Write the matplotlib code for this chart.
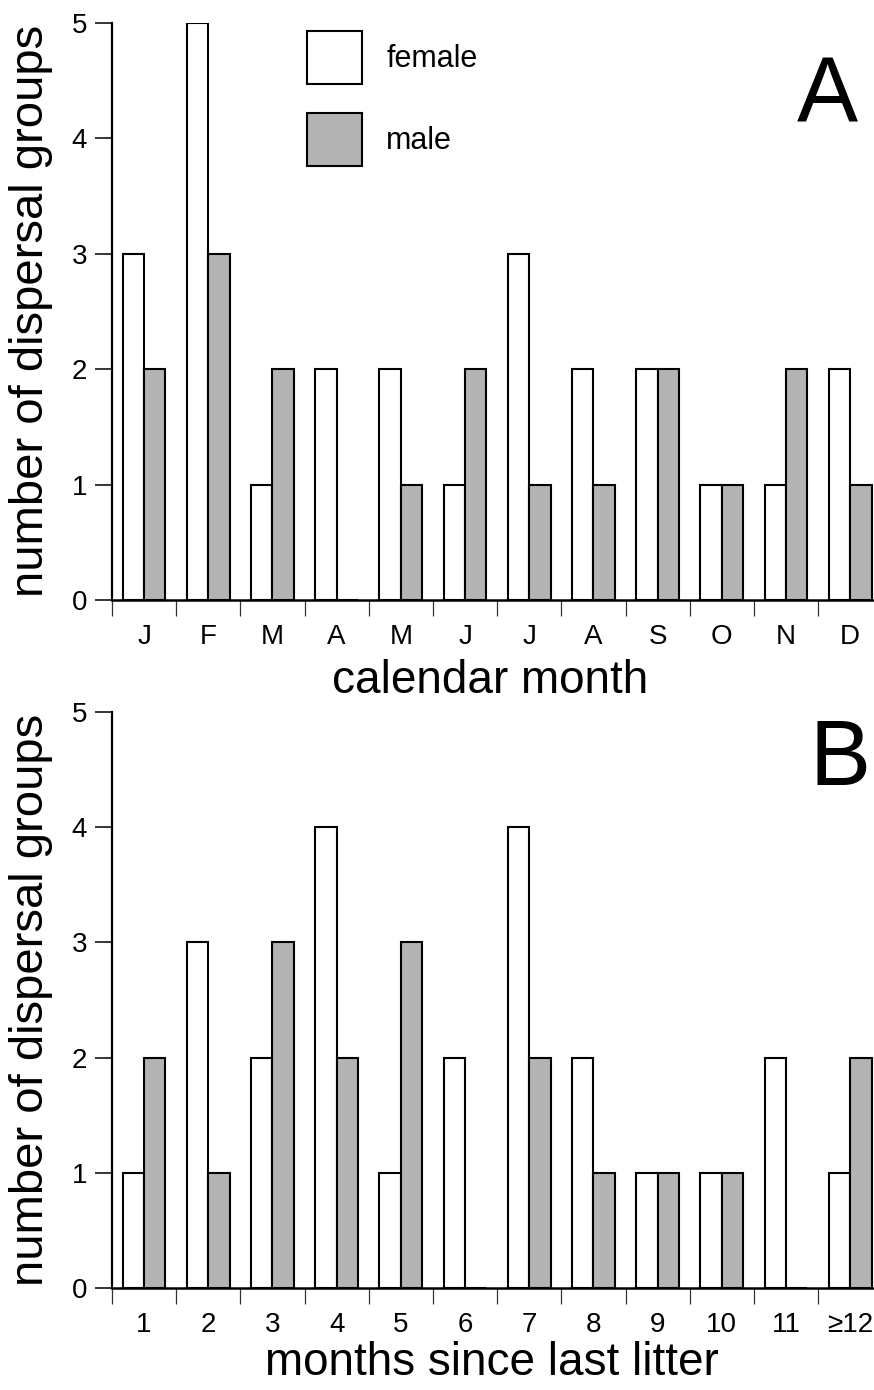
import numpy as np
import matplotlib
matplotlib.use("Agg")
import matplotlib.pyplot as plt

plt.rcParams['font.family'] = ['Liberation Sans', 'DejaVu Sans']

# panel A: calendar month
months = ['J', 'F', 'M', 'A', 'M', 'J', 'J', 'A', 'S', 'O', 'N', 'D']
female_month = [3, 5, 1, 2, 2, 1, 3, 2, 2, 1, 1, 2]
male_month = [2, 3, 2, 0, 1, 2, 1, 1, 2, 1, 2, 1]

# panel B: months since last litter
litter = ['1', '2', '3', '4', '5', '6', '7', '8', '9', '10', '11', '\u226512']
female_litter = [1, 3, 2, 4, 1, 2, 4, 2, 1, 1, 2, 1]
male_litter = [2, 1, 3, 2, 3, 0, 2, 1, 1, 1, 0, 2]

GRAY = '#b3b3b3'
W, H = 874, 1390
fig = plt.figure(figsize=(W / 100, H / 100), dpi=100)


def px(x, y):
    return x / W, 1 - y / H


def panel(rect, cats, fem, mal):
    ax = fig.add_axes(rect)
    x = np.arange(len(cats))
    w = 1 / 3
    bf = ax.bar(x - w / 2, fem, w, color='white', edgecolor='black',
                linewidth=1.5, label='female', zorder=2)
    bm = ax.bar(x + w / 2, mal, w, color=GRAY, edgecolor='black',
                linewidth=1.5, label='male', zorder=2)
    ax.set_xlim(-0.5, 11.37)
    ax.set_ylim(0, 5)
    for s in ['top', 'right']:
        ax.spines[s].set_visible(False)
    ax.spines['left'].set_linewidth(1.6)
    ax.spines['bottom'].set_linewidth(1.8)
    ax.spines['bottom'].set_zorder(3)
    ax.set_yticks(range(6))
    ax.tick_params(axis='y', length=12, width=1.1, pad=6, labelsize=20)
    ax.set_xticks(np.arange(-0.5, 11.0, 1.0))
    ax.set_xticklabels([])
    ax.tick_params(axis='x', which='major', length=11.5, width=0.9,
                   color='#333333')
    ax.set_xticks(x, minor=True)
    ax.set_xticklabels(cats, minor=True)
    ax.tick_params(axis='x', which='minor', length=0, pad=17, labelsize=20)
    return ax, bf, bm


axA, bf, bm = panel([112 / W, 1 - 600 / H, 762 / W, 577 / H],
                    months, female_month, male_month)
axB, _, _ = panel([112 / W, 1 - 1288 / H, 762 / W, 576 / H],
                  litter, female_litter, male_litter)

axA.legend(handles=[bf, bm], loc='upper left', bbox_to_anchor=px(307, 31),
           bbox_transform=fig.transFigure, frameon=False, fontsize=22,
           handlelength=1.8, handleheight=2.3, labelspacing=0.95,
           handletextpad=0.8, borderpad=0, borderaxespad=0)

fig.text(*px(31, 311), 'number of dispersal groups', rotation=90,
         ha='center', va='center', fontsize=34)
fig.text(*px(31, 1000), 'number of dispersal groups', rotation=90,
         ha='center', va='center', fontsize=34)
fig.text(*px(490, 693), 'calendar month', ha='center', va='baseline',
         fontsize=33)
fig.text(*px(492, 1375), 'months since last litter', ha='center',
         va='baseline', fontsize=33)
fig.text(*px(827, 123), 'A', ha='center', va='baseline', fontsize=66)
fig.text(*px(840, 785), 'B', ha='center', va='baseline', fontsize=66)

fig.savefig('out.png', dpi=100)
